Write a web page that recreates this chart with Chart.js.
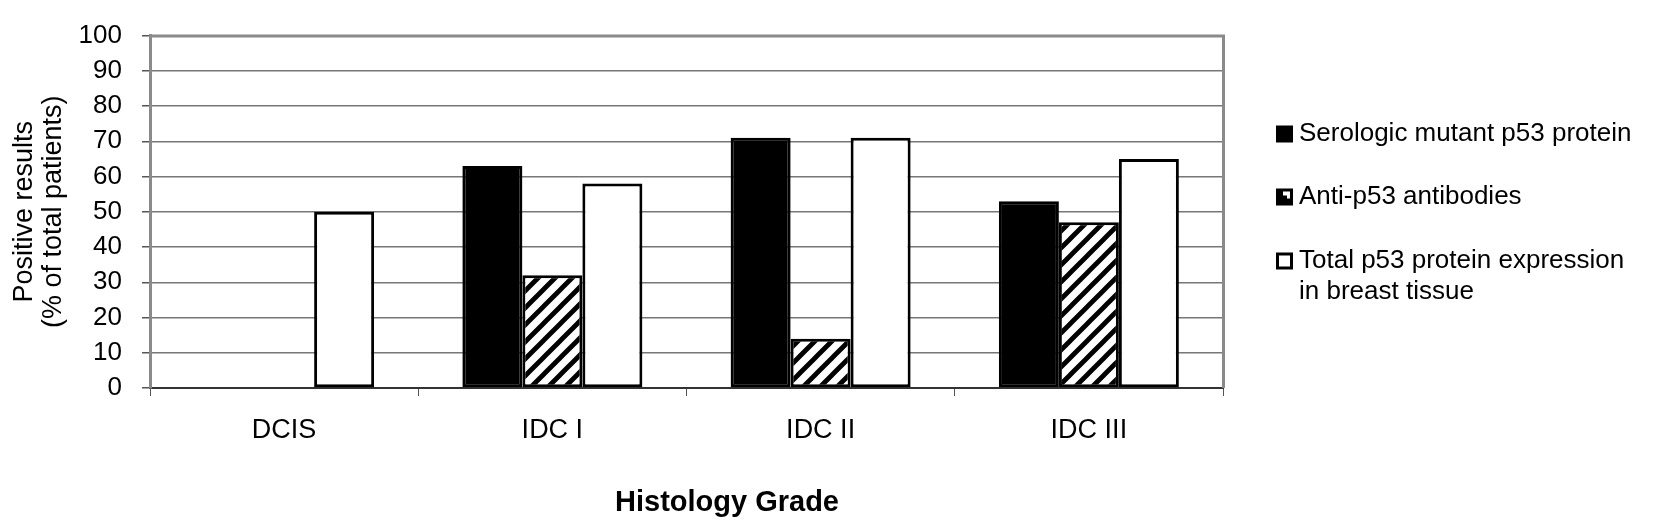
<!DOCTYPE html>
<html>
<head>
<meta charset="utf-8">
<script src="https://cdn.jsdelivr.net/npm/chart.js@4.4.1/dist/chart.umd.min.js"></script>
<style>
  html, body { margin: 0; padding: 0; background: #ffffff; }
  #wrap { width: 1654px; height: 532px; position: relative; }
</style>
</head>
<body>
<div id="wrap"><canvas id="c" width="1654" height="532"></canvas></div>
<script>
const categories = ['DCIS', 'IDC I', 'IDC II', 'IDC III'];
const seriesNames = ['Serologic mutant p53 protein', 'Anti-p53 antibodies', ['Total p53 protein expression', 'in breast tissue']];
const serologicMutant = [0, 63, 71, 53];
const antiP53Antibodies = [0, 32, 14, 47];
const totalP53Expression = [50, 58, 71, 65];
const yTickValues = [0, 10, 20, 30, 40, 50, 60, 70, 80, 90, 100];
const yTitle = ['Positive results', '(% of total patients)'];
const xTitle = 'Histology Grade';

const FONT = "'Liberation Sans', Arial, sans-serif";

function makeHatch() {
  const s = 17;
  const p = document.createElement('canvas');
  p.width = s; p.height = s;
  const g = p.getContext('2d');
  g.fillStyle = '#ffffff';
  g.fillRect(0, 0, s, s);
  g.strokeStyle = '#000000';
  g.lineWidth = 4.8;
  g.beginPath();
  g.moveTo(-5, s + 5); g.lineTo(s + 5, -5);
  g.moveTo(-5, 5); g.lineTo(5, -5);
  g.moveTo(s - 5, s + 5); g.lineTo(s + 5, s - 5);
  g.stroke();
  return document.getElementById('c').getContext('2d').createPattern(p, 'repeat');
}
const hatch = makeHatch();

const framePlugin = {
  id: 'frame',
  beforeDatasetsDraw(chart) {
    const { ctx, chartArea: a } = chart;
    ctx.save();
    ctx.strokeStyle = '#8a8a8a';
    ctx.lineWidth = 3;
    ctx.beginPath();
    ctx.moveTo(a.left, a.top + 0.5);
    ctx.lineTo(a.right + 0.5, a.top + 0.5);
    ctx.lineTo(a.right + 0.5, a.bottom);
    ctx.stroke();
    ctx.restore();
  }
};

const legendPlugin = {
  id: 'customLegend',
  afterDraw(chart) {
    const ctx = chart.ctx;
    ctx.save();
    const x0 = 1276, sw = 17, tx = 1299;
    const ys = [134, 197, 261];
    ctx.font = '26px ' + FONT;
    ctx.textBaseline = 'middle';
    ctx.textAlign = 'left';
    seriesNames.forEach((name, i) => {
      const y = ys[i];
      const sy = y - sw / 2;
      if (i === 0) {
        ctx.fillStyle = '#000';
        ctx.fillRect(x0, sy, sw, sw);
      } else if (i === 1) {
        ctx.fillStyle = '#000';
        ctx.fillRect(x0, sy, sw, sw);
        ctx.fillStyle = '#fff';
        ctx.beginPath();
        ctx.moveTo(x0 + 7, sy + 3);
        ctx.lineTo(x0 + 14, sy + 3);
        ctx.lineTo(x0 + 14, sy + 10);
        ctx.lineTo(x0 + 11, sy + 10);
        ctx.lineTo(x0 + 11, sy + 7);
        ctx.lineTo(x0 + 7, sy + 7);
        ctx.closePath();
        ctx.fill();
      } else {
        ctx.fillStyle = '#fff';
        ctx.fillRect(x0, sy, sw, sw);
        ctx.strokeStyle = '#000';
        ctx.lineWidth = 3;
        ctx.strokeRect(x0 + 1.5, sy + 1.5, sw - 3, sw - 3);
      }
      ctx.fillStyle = '#000';
      const lines = Array.isArray(name) ? name : [name];
      lines.forEach((ln, k) => ctx.fillText(ln, tx, y + k * 31));
    });
    // x axis title
    ctx.font = 'bold 29px ' + FONT;
    ctx.textAlign = 'center';
    ctx.fillText(xTitle, 727, 503);
    ctx.restore();
  }
};

new Chart(document.getElementById('c'), {
  type: 'bar',
  data: {
    labels: categories,
    datasets: [
      { label: seriesNames[0], data: serologicMutant, backgroundColor: '#000000', borderColor: '#000000', borderWidth: 3 },
      { label: seriesNames[1], data: antiP53Antibodies, backgroundColor: hatch, borderColor: '#000000', borderWidth: 3 },
      { label: seriesNames[2].join(' '), data: totalP53Expression, backgroundColor: '#ffffff', borderColor: '#000000', borderWidth: 3 }
    ]
  },
  options: {
    responsive: false,
    animation: false,
    events: [],
    layout: { padding: { left: 0, right: 431, top: 27, bottom: 0 } },
    datasets: { bar: { categoryPercentage: 0.671, barPercentage: 1.0, borderSkipped: false } },
    plugins: { legend: { display: false }, tooltip: { enabled: false } },
    scales: {
      x: {
        afterFit(s) { s.height = 144; },
        grid: { display: true, drawOnChartArea: false, drawTicks: true, tickLength: 8, color: '#555', offset: true },
        border: { display: true, color: '#333', width: 2 },
        ticks: { color: '#000', font: { family: FONT, size: 27 }, padding: 18, maxRotation: 0 },
        title: { display: false }
      },
      y: {
        min: 0, max: 100,
        afterFit(s) { s.width = 150; },
        afterBuildTicks(s) { s.ticks = yTickValues.map(v => ({ value: v })); },
        grid: { color: '#777', lineWidth: 1.5, tickLength: 8, tickColor: '#555' },
        border: { display: true, color: '#8a8a8a', width: 3 },
        ticks: { color: '#000', font: { family: FONT, size: 26 }, padding: 20 },
        title: { display: true, text: yTitle, color: '#000', font: { family: FONT, size: 27, lineHeight: 1.07 }, padding: { top: 10, bottom: 0 } }
      }
    }
  },
  plugins: [framePlugin, legendPlugin]
});
</script>
</body>
</html>
